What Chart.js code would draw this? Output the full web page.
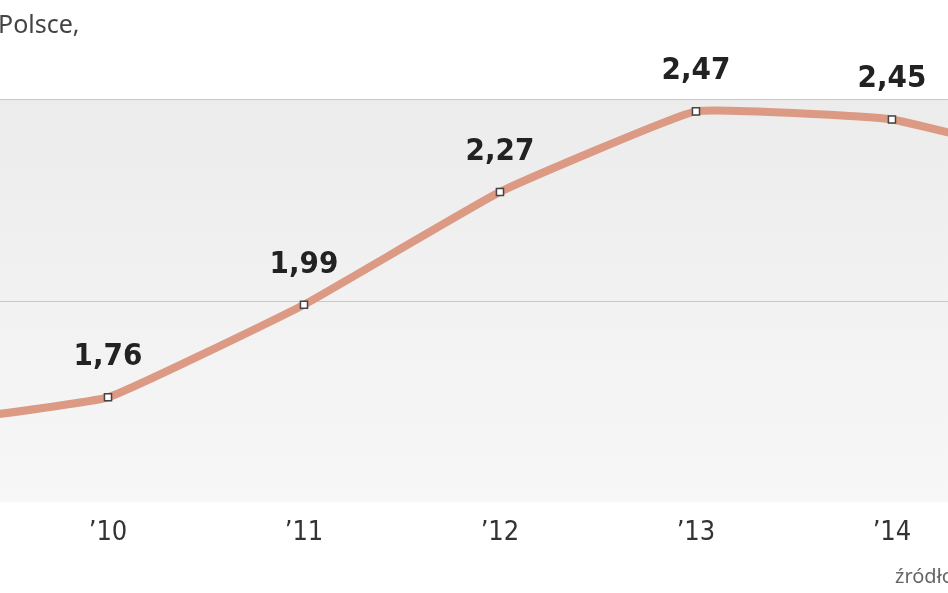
<!DOCTYPE html>
<html>
<head>
<meta charset="utf-8">
<script src="https://cdn.jsdelivr.net/npm/chart.js@4"></script>
<style>
  body { margin: 0; background: #fff; }
  #wrap { position: relative; width: 948px; height: 593px; overflow: hidden; }
  #title { position: absolute; left: -2px; top: 6px; font: 25px "Noto Sans", sans-serif; color: #444; }
  #src { position: absolute; left: 895px; top: 562px; font: 20px "Noto Sans", sans-serif; color: #666; white-space: nowrap; }
</style>
</head>
<body>
<div id="wrap">
  <canvas id="c" width="948" height="593"></canvas>
  <div id="title">Polsce,</div>
  <div id="src">źródło</div>
</div>
<script>
// années et valeurs
const years = [2009, 2010, 2011, 2012, 2013, 2014, 2015];
const yearLabels = ['’09', '’10', '’11', '’12', '’13', '’14', '’15'];
const values = [1.69, 1.76, 1.99, 2.27, 2.47, 2.45, 2.33];
const gridValues = [2.0, 2.5];

const points = years.map((y, i) => ({ x: y, y: values[i] }));

// fond gris, lignes, étiquettes
const decor = {
  id: 'decor',
  beforeDatasetsDraw(chart) {
    const { ctx, chartArea, scales } = chart;
    const top = scales.y.getPixelForValue(2.5);
    const bot = scales.y.getPixelForValue(1.5);
    const g = ctx.createLinearGradient(0, top, 0, bot);
    g.addColorStop(0, '#ececec');
    g.addColorStop(1, '#f7f7f7');
    ctx.save();
    ctx.fillStyle = g;
    ctx.fillRect(chartArea.left, top, chartArea.right - chartArea.left, bot - top);
    ctx.strokeStyle = '#c8c8c8';
    ctx.lineWidth = 1;
    gridValues.forEach(v => {
      const y = Math.round(scales.y.getPixelForValue(v)) + 0.5;
      ctx.beginPath(); ctx.moveTo(chartArea.left, y); ctx.lineTo(chartArea.right, y); ctx.stroke();
    });
    ctx.restore();
  },
  afterDatasetsDraw(chart) {
    const { ctx, scales } = chart;
    ctx.save();
    ctx.textAlign = 'center';
    ctx.textBaseline = 'middle';
    years.forEach((yr, i) => {
      const x = scales.x.getPixelForValue(yr);
      const y = scales.y.getPixelForValue(values[i]);
      ctx.fillStyle = '#222';
      ctx.font = 'bold 31px "DejaVu Sans Condensed", sans-serif';
      ctx.fillText(values[i].toFixed(2).replace('.', ','), x, y - 40);
      ctx.fillStyle = '#333';
      ctx.font = '27px "DejaVu Sans Condensed", sans-serif';
      ctx.fillText(yearLabels[i], x, 533);
    });
    ctx.restore();
  }
};

new Chart(document.getElementById('c'), {
  type: 'line',
  data: {
    datasets: [{
      data: points,
      borderColor: '#dc9a84',
      borderWidth: 8,
      tension: 0.1,
      clip: false,
      pointStyle: 'rect',
      pointRadius: 5,
      pointBackgroundColor: '#ffffff',
      pointBorderColor: '#444',
      pointBorderWidth: 1.5
    }]
  },
  options: {
    responsive: false,
    animation: false,
    layout: { padding: 0, autoPadding: false },
    plugins: { legend: { display: false }, tooltip: { enabled: false } },
    scales: {
      x: { type: 'linear', min: 2009.449, max: 2014.286, display: false },
      y: { min: 1.2742, max: 2.7465, display: false }
    }
  },
  plugins: [decor]
});
</script>
</body>
</html>
